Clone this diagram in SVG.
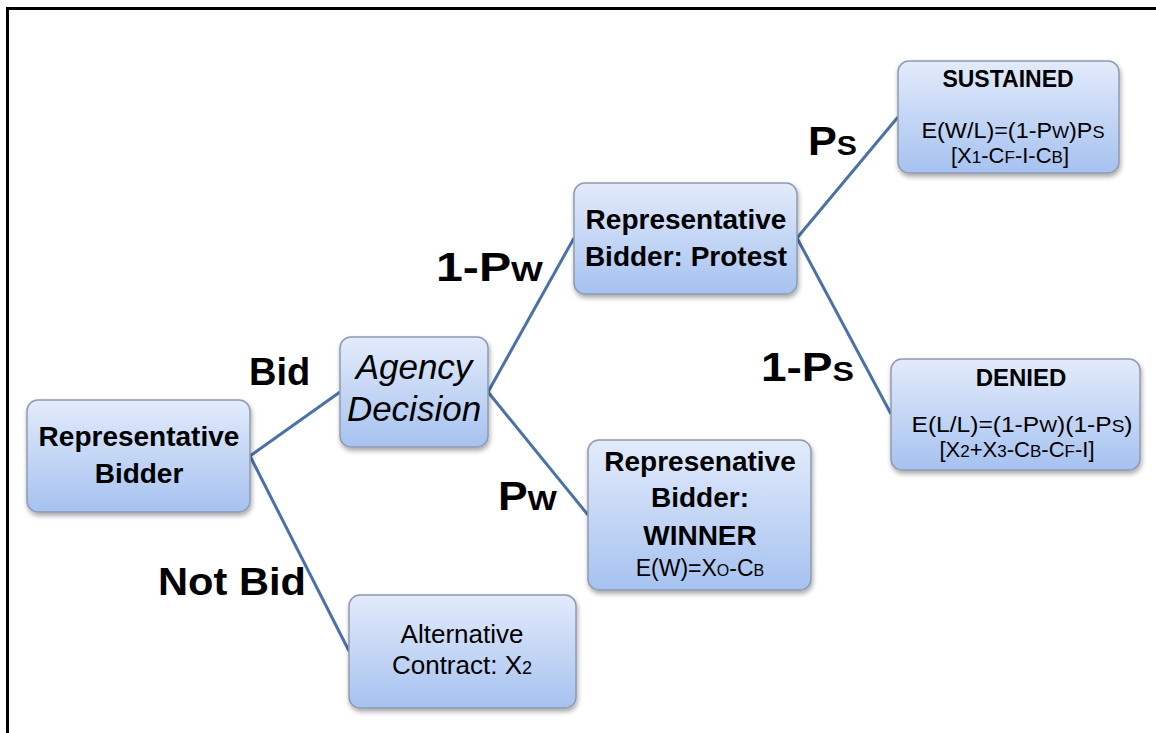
<svg xmlns="http://www.w3.org/2000/svg" width="1156" height="733" viewBox="0 0 1156 733">
<defs>
<linearGradient id="g" x1="0" y1="0" x2="0" y2="1">
<stop offset="0" stop-color="#e3ebfb"/>
<stop offset="1" stop-color="#a6c2f0"/>
</linearGradient>
<filter id="sh" x="-10%" y="-10%" width="125%" height="130%">
<feGaussianBlur in="SourceAlpha" stdDeviation="2.5"/>
<feOffset dx="1" dy="3" result="b"/>
<feComponentTransfer><feFuncA type="linear" slope="0.35"/></feComponentTransfer>
<feMerge><feMergeNode/><feMergeNode in="SourceGraphic"/></feMerge>
</filter>
</defs>
<style>
.box{fill:url(#g);stroke:#8e9bb0;stroke-width:1.5;filter:url(#sh)}
.t{font-family:"Liberation Sans",Arial,sans-serif;fill:#000;text-anchor:middle}
.b{font-weight:bold}
.f{font-size:22px}
.s{font-size:17px}
.c{stroke:#4a72a6;stroke-width:3;fill:none}
.lbl{font-family:"Liberation Sans",Arial,sans-serif;font-weight:bold;fill:#000}
</style>
<rect width="1156" height="733" fill="#fff"/>
<path d="M7.5,733 V8.5 H1156" fill="none" stroke="#000" stroke-width="3"/>
<g id="connectors">
<line class="c" x1="250" y1="456" x2="340" y2="392"/>
<line class="c" x1="250" y1="456" x2="349" y2="651"/>
<line class="c" x1="488" y1="392" x2="574" y2="238"/>
<line class="c" x1="488" y1="392" x2="588" y2="515"/>
<line class="c" x1="797" y1="238" x2="898" y2="117"/>
<line class="c" x1="797" y1="238" x2="891" y2="414"/>
</g>
<g id="edge-labels">
<text class="lbl" x="249" y="385" font-size="38">Bid</text>
<text class="lbl" x="158" y="595" font-size="39" textLength="148" lengthAdjust="spacingAndGlyphs">Not Bid</text>
<text class="lbl" x="436" y="281" font-size="40" textLength="107" lengthAdjust="spacingAndGlyphs">1-P<tspan font-size="28">W</tspan></text>
<text class="lbl" x="498" y="510" font-size="40" textLength="59" lengthAdjust="spacingAndGlyphs">P<tspan font-size="28">W</tspan></text>
<text class="lbl" x="808" y="155" font-size="40" textLength="49" lengthAdjust="spacingAndGlyphs">P<tspan font-size="28">S</tspan></text>
<text class="lbl" x="761" y="381" font-size="40" textLength="93" lengthAdjust="spacingAndGlyphs">1-P<tspan font-size="28">S</tspan></text>
</g>
<g id="node-bidder">
<rect class="box" x="27" y="400" width="223" height="112" rx="11"/>
<text class="t b" x="139" y="446" font-size="28">Representative</text>
<text class="t b" x="139" y="483" font-size="28">Bidder</text>
</g>
<g id="node-agency">
<rect class="box" x="340" y="337" width="148" height="110" rx="11"/>
<text class="t" x="414" y="379" font-size="35" font-style="italic">Agency</text>
<text class="t" x="414" y="421" font-size="35" font-style="italic">Decision</text>
</g>
<g id="node-protest">
<rect class="box" x="574" y="183" width="223" height="111" rx="11"/>
<text class="t b" x="686" y="229" font-size="28">Representative</text>
<text class="t b" x="686" y="266" font-size="28">Bidder: Protest</text>
</g>
<g id="node-winner">
<rect class="box" x="588" y="440" width="223" height="150" rx="11"/>
<text class="t b" x="700" y="471" font-size="28">Represenative</text>
<text class="t b" x="700" y="507" font-size="28">Bidder:</text>
<text class="t b" x="700" y="545" font-size="28">WINNER</text>
<text class="t" x="700" y="576" font-size="23">E(W)=X<tspan font-size="16">O</tspan>-C<tspan font-size="16">B</tspan></text>
</g>
<g id="node-alternative">
<rect class="box" x="349" y="595" width="227" height="113" rx="11"/>
<text class="t" x="462" y="643" font-size="26">Alternative</text>
<text class="t" x="462" y="674" font-size="26">Contract: X<tspan font-size="18">2</tspan></text>
</g>
<g id="node-sustained">
<rect class="box" x="898" y="61" width="221" height="112" rx="11"/>
<text class="t b" x="1008" y="87" font-size="23">SUSTAINED</text>
<text class="t f" x="1013" y="138" textLength="183" lengthAdjust="spacingAndGlyphs">E(W/L)=(1-P<tspan class="s">W</tspan>)P<tspan class="s">S</tspan></text>
<text class="t f" x="1010" y="163">[X<tspan class="s">1</tspan>-C<tspan class="s">F</tspan>-I-C<tspan class="s">B</tspan>]</text>
</g>
<g id="node-denied">
<rect class="box" x="891" y="359" width="249" height="111" rx="11"/>
<text class="t b" x="1021" y="386" font-size="24">DENIED</text>
<text class="t f" x="1022" y="432" textLength="221" lengthAdjust="spacingAndGlyphs">E(L/L)=(1-P<tspan class="s">W</tspan>)(1-P<tspan class="s">S</tspan>)</text>
<text class="t f" x="1017" y="457">[X<tspan class="s">2</tspan>+X<tspan class="s">3</tspan>-C<tspan class="s">B</tspan>-C<tspan class="s">F</tspan>-I]</text>
</g>
</svg>
